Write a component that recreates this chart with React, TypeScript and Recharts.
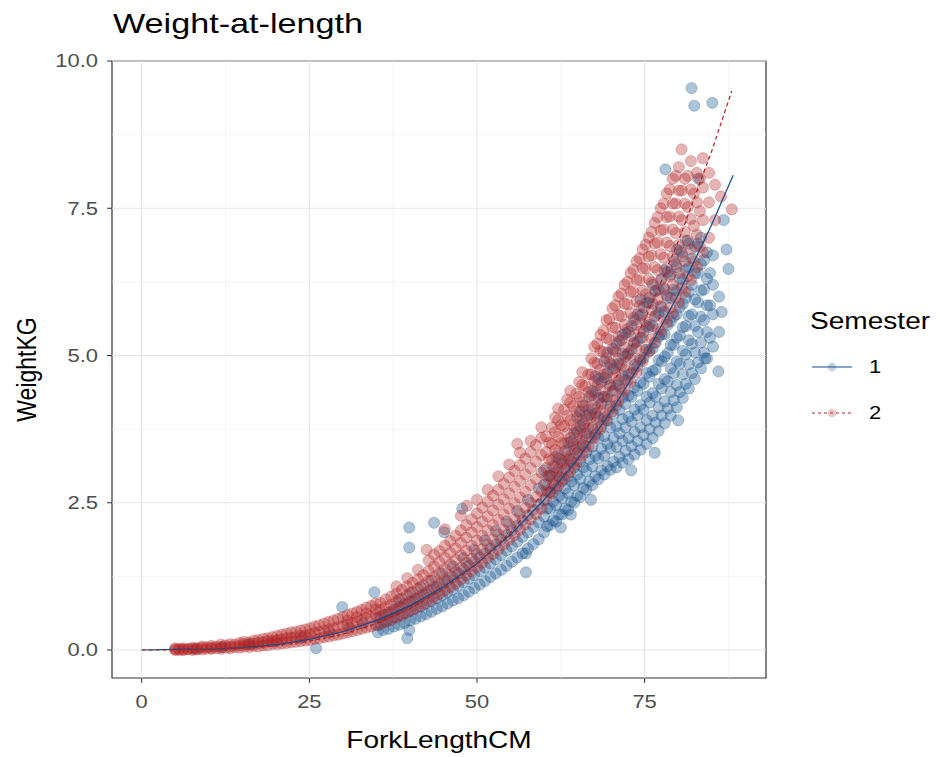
import { ScatterChart, Scatter, XAxis, YAxis, ReferenceLine, ReferenceArea } from 'recharts';

// Weight-at-length scatter, semester 1 vs 2, with fitted curves

type Col = [number, number[]];

const xTicks = [0, 25, 50, 75];
const yTicks = [0, 2.5, 5, 7.5, 10];
const xMinor = [12.5, 37.5, 62.5, 87.5];
const yMinor = [1.25, 3.75, 6.25, 8.75];

// semester 1 (blue) - columns of [ForkLengthCM, WeightKG values]
const sem1Cols: Col[] = [
  [8, [0.02]], [12, [0.05]], [16, [0.1]], [20, [0.15]], [24, [0.22]], [26, [0.03]],
  [28, [0.3]], [29.9, [0.73]], [31, [0.38]], [33, [0.45]], [34.7, [0.98]],
  [35.2, [0.3, 0.42, 0.55]], [36.0, [0.34, 0.47, 0.6]], [36.8, [0.36, 0.5, 0.64]],
  [37.6, [0.4, 0.55, 0.69]], [38.4, [0.43, 0.58, 0.73, 0.86]], [39.2, [0.46, 0.62, 0.78]],
  [39.6, [0.2]], [39.9, [0.34, 1.74, 2.08]], [43.6, [2.16]], [45.1, [2.0]], [47.8, [2.4]],
  [40.0, [0.5, 0.66, 0.82, 0.97]], [40.8, [0.53, 0.7, 0.87]], [41.6, [0.57, 0.74, 0.92, 1.07]],
  [42.4, [0.61, 0.79, 0.97]], [43.2, [0.65, 0.83, 1.02, 1.18]], [44.0, [0.7, 0.88, 1.07]],
  [44.8, [0.74, 0.93, 1.12, 1.3]], [45.6, [0.79, 0.98, 1.18]], [46.4, [0.84, 1.03, 1.24, 1.42]],
  [47.2, [0.88, 1.09, 1.3]], [48.0, [0.93, 1.15, 1.37, 1.56]], [48.8, [0.99, 1.21, 1.43]],
  [49.6, [1.05, 1.27, 1.5, 1.7]], [50.4, [1.11, 1.34, 1.57]], [51.2, [1.17, 1.4, 1.64, 1.86]],
  [52.0, [1.24, 1.47, 1.72]], [52.8, [1.3, 1.54, 1.79, 2.02]], [53.6, [1.36, 1.61, 1.87]],
  [54.4, [1.43, 1.69, 1.95, 2.18]], [55.2, [1.5, 1.76, 2.03]], [56.0, [1.57, 1.84, 2.11, 2.36]],
  [56.8, [1.64, 1.92, 2.2]], [57.3, [1.32, 1.64]], [57.6, [1.72, 2.0, 2.29, 2.55]],
  [58.4, [1.8, 2.09, 2.38]], [59.2, [1.88, 2.17, 2.47, 2.74]], [62.5, [2.08]],
  [60.0, [2.0, 2.27, 2.54, 2.81, 3.05]], [60.9, [2.12, 2.4, 2.68, 2.96]],
  [61.8, [2.18, 2.46, 2.74, 3.02, 3.28]], [62.7, [2.3, 2.58, 2.87, 3.16]],
  [63.6, [2.38, 2.66, 2.95, 3.24, 3.52]], [64.5, [2.5, 2.8, 3.1, 3.4, 3.68]],
  [65.4, [2.6, 2.9, 3.2, 3.5, 3.8, 4.05]], [66.3, [2.72, 3.04, 3.36, 3.68, 3.98]],
  [67.2, [2.8, 3.12, 3.45, 3.78, 4.1, 4.4]], [68.1, [2.9, 3.25, 3.6, 3.95, 4.28, 4.6]],
  [69.0, [2.98, 3.3, 3.63, 3.96, 4.3, 4.63, 4.9]], [69.9, [3.06, 3.42, 3.78, 4.14, 4.5, 4.85]],
  [70.8, [3.1, 3.45, 3.8, 4.15, 4.5, 4.85, 5.2]], [71.7, [3.18, 3.55, 3.92, 4.29, 4.66, 5.03, 5.35]],
  [72.6, [3.24, 3.6, 3.96, 4.32, 4.68, 5.04, 5.4]], [73.5, [3.32, 3.7, 4.08, 4.46, 4.84, 5.22, 5.6]],
  [74.4, [3.4, 3.78, 4.16, 4.54, 4.92, 5.3, 5.68, 5.95]], [75.3, [3.5, 3.9, 4.3, 4.7, 5.1, 5.5, 5.9]],
  [76.2, [3.6, 3.98, 4.36, 4.74, 5.12, 5.5, 5.88, 6.2]], [77.1, [3.72, 4.12, 4.52, 4.92, 5.32, 5.72, 6.12]],
  [78.0, [3.85, 4.22, 4.6, 4.98, 5.36, 5.74, 6.12, 6.45]], [78.9, [3.98, 4.38, 4.78, 5.18, 5.58, 5.98, 6.38]],
  [79.8, [4.12, 4.5, 4.9, 5.3, 5.7, 6.1, 6.5, 6.8]], [80.7, [4.28, 4.68, 5.08, 5.48, 5.88, 6.28, 6.68]],
  [81.6, [4.44, 4.85, 5.26, 5.67, 6.08, 6.5, 6.9]], [82.5, [4.6, 5.05, 5.5, 5.95, 6.4, 6.85]],
  [83.4, [4.78, 5.22, 5.66, 6.1, 6.55, 7.0]], [84.3, [4.95, 5.4, 5.85, 6.3, 6.75]],
  [85.2, [5.15, 5.7, 6.2, 6.7]], [86.1, [5.4, 6.0]],
  [60.45, [2.1, 2.4, 2.7, 2.95]], [61.35, [2.2, 2.52, 2.82, 3.12]], [62.25, [2.3, 2.62, 2.94, 3.25]],
  [63.15, [2.4, 2.74, 3.08, 3.38]], [64.05, [2.52, 2.86, 3.2, 3.54]], [64.95, [2.62, 2.98, 3.34, 3.7, 3.95]],
  [65.85, [2.75, 3.1, 3.48, 3.84, 4.15]], [66.75, [2.86, 3.24, 3.62, 4.0, 4.3]],
  [67.65, [2.95, 3.3, 3.66, 4.02, 4.38, 4.65]], [68.55, [3.05, 3.42, 3.8, 4.18, 4.55]],
  [69.45, [3.12, 3.5, 3.9, 4.3, 4.7, 5.05]], [70.35, [3.2, 3.6, 4.0, 4.4, 4.78, 5.1]],
  [71.25, [3.28, 3.68, 4.08, 4.48, 4.86, 5.25]], [72.15, [3.38, 3.78, 4.18, 4.58, 4.98, 5.38]],
  [73.05, [3.46, 3.88, 4.3, 4.7, 5.1, 5.5]], [73.95, [3.55, 3.98, 4.4, 4.82, 5.24, 5.7]],
  [74.85, [3.65, 4.08, 4.52, 4.96, 5.4, 5.82]], [75.75, [3.75, 4.2, 4.64, 5.08, 5.52, 5.98]],
  [76.65, [3.86, 4.3, 4.76, 5.22, 5.68, 6.1]], [77.55, [3.98, 4.44, 4.9, 5.36, 5.82, 6.3]],
  [78.45, [4.1, 4.56, 5.04, 5.52, 5.98, 6.42]], [79.35, [4.24, 4.7, 5.18, 5.66, 6.12, 6.6]],
  [80.25, [4.38, 4.86, 5.34, 5.82, 6.3, 6.78]], [81.15, [4.52, 5.02, 5.5, 5.98, 6.46, 6.95]],
  [82.05, [4.7, 5.2, 5.7, 6.2, 6.65]], [82.95, [4.88, 5.4, 5.9, 6.4, 6.9]],
  [83.85, [5.05, 5.6, 6.12, 6.62]], [84.75, [5.3, 5.85, 6.4]],
  [86.0, [4.73]], [86.5, [5.74]], [87.2, [6.8]], [87.5, [6.47]], [84.0, [4.95]],
  [80.0, [3.9]], [76.5, [3.35]], [73.0, [3.05]], [67.0, [2.55]], [64.0, [2.3]],
  [85.1, [9.29]], [82.0, [9.54]], [82.4, [9.24]], [78.1, [8.16]], [83.0, [8.0]], [86.8, [7.3]],
];

// semester 2 (red)
const sem2Cols: Col[] = [
  [5.0, [0.0, 0.01, 0.03]], [5.6, [0.0, 0.02]], [6.2, [0.01, 0.03, 0.0]], [6.9, [0.01, 0.02]],
  [7.6, [0.0, 0.02, 0.04]], [8.3, [0.01, 0.03]], [9.0, [0.01, 0.04, 0.06]], [9.7, [0.02, 0.05]],
  [10.4, [0.02, 0.04, 0.07]], [11.1, [0.03, 0.06]], [11.8, [0.02, 0.05, 0.09]], [12.5, [0.04, 0.08]],
  [13.2, [0.03, 0.06, 0.1]], [13.9, [0.05, 0.09]], [14.6, [0.04, 0.08, 0.12]], [15.3, [0.06, 0.1, 0.14]],
  [16.0, [0.05, 0.09, 0.13]], [16.7, [0.07, 0.11, 0.16]], [17.4, [0.06, 0.12, 0.17]],
  [18.1, [0.08, 0.13, 0.19]], [18.8, [0.08, 0.15, 0.2]], [19.5, [0.1, 0.15, 0.22]],
  [20.2, [0.1, 0.17, 0.24]], [20.9, [0.11, 0.18, 0.26]], [21.6, [0.12, 0.2, 0.28]],
  [22.3, [0.13, 0.21, 0.3]], [23.0, [0.14, 0.22, 0.31]], [23.7, [0.15, 0.24, 0.33]],
  [24.4, [0.16, 0.25, 0.35]], [25.1, [0.17, 0.27, 0.37]], [25.8, [0.19, 0.29, 0.4]],
  [26.5, [0.2, 0.31, 0.42]], [27.2, [0.22, 0.33, 0.45]], [27.9, [0.23, 0.35, 0.48]],
  [28.6, [0.25, 0.37, 0.5]], [29.3, [0.26, 0.39, 0.53]], [30.0, [0.28, 0.41, 0.56]],
  [30.7, [0.3, 0.43, 0.59, 0.5]], [31.4, [0.32, 0.46, 0.62]], [32.1, [0.34, 0.48, 0.65, 0.56]],
  [32.8, [0.36, 0.51, 0.68]], [33.5, [0.38, 0.54, 0.72, 0.62]], [34.2, [0.4, 0.57, 0.75]],
  [34.9, [0.43, 0.6, 0.79, 0.69]],
  [35.6, [0.44, 0.56, 0.68, 0.8]], [36.4, [0.48, 0.6, 0.73, 0.86]], [37.2, [0.51, 0.64, 0.77, 0.91]],
  [38.0, [0.55, 0.68, 0.82, 0.96, 1.08]], [38.8, [0.59, 0.73, 0.87, 1.02]],
  [39.6, [0.64, 0.78, 0.93, 1.08, 1.22]], [40.4, [0.68, 0.83, 0.98, 1.14]],
  [41.2, [0.73, 0.88, 1.04, 1.2, 1.36]], [42.0, [0.78, 0.94, 1.1, 1.27]],
  [42.8, [0.83, 1.0, 1.17, 1.34, 1.52]], [43.6, [0.89, 1.06, 1.24, 1.42, 1.62]],
  [44.4, [0.95, 1.12, 1.3, 1.49, 1.68]], [45.2, [1.01, 1.19, 1.38, 1.57, 1.77, 2.05]],
  [46.0, [1.07, 1.26, 1.45, 1.65, 1.85]], [46.8, [1.13, 1.33, 1.53, 1.73, 1.94]],
  [47.6, [1.2, 1.4, 1.61, 1.82, 2.03, 2.28]], [48.4, [1.27, 1.48, 1.69, 1.91, 2.12]],
  [49.2, [1.34, 1.55, 1.77, 2.0, 2.22]], [50.0, [1.41, 1.63, 1.86, 2.09, 2.32, 2.55]],
  [50.8, [1.48, 1.71, 1.94, 2.18, 2.42]], [51.6, [1.56, 1.79, 2.03, 2.27, 2.52, 2.72]],
  [52.4, [1.63, 1.87, 2.12, 2.37, 2.62]], [53.2, [1.71, 1.96, 2.21, 2.47, 2.72, 2.95]],
  [54.0, [1.79, 2.04, 2.3, 2.56, 2.82]], [54.8, [1.87, 2.13, 2.4, 2.66, 2.93, 3.15]],
  [55.6, [1.95, 2.22, 2.49, 2.77, 3.04]], [56.4, [2.04, 2.31, 2.59, 2.87, 3.14, 3.35]],
  [57.2, [2.13, 2.41, 2.69, 2.98, 3.25]], [58.0, [2.22, 2.5, 2.8, 3.09, 3.36, 3.55]],
  [58.8, [2.31, 2.6, 2.9, 3.2, 3.48]], [59.6, [2.4, 2.7, 3.01, 3.31, 3.6, 3.78]],
  [60.3, [2.55, 2.82, 3.09, 3.36, 3.63]], [61.2, [2.66, 2.94, 3.22, 3.5, 3.78]],
  [62.1, [2.78, 3.06, 3.34, 3.62, 3.9, 4.1]], [63.0, [2.9, 3.2, 3.5, 3.8, 4.08]],
  [63.9, [3.02, 3.3, 3.6, 3.9, 4.2, 4.4]], [64.8, [3.15, 3.45, 3.75, 4.05, 4.35]],
  [65.7, [3.3, 3.6, 3.9, 4.2, 4.5, 4.72]], [66.6, [3.45, 3.76, 4.07, 4.38, 4.68]],
  [67.5, [3.6, 3.92, 4.24, 4.56, 4.88, 5.15]], [68.4, [3.75, 4.08, 4.42, 4.76, 5.08, 5.35]],
  [69.3, [3.9, 4.25, 4.6, 4.95, 5.3, 5.6]], [70.2, [4.05, 4.4, 4.76, 5.12, 5.48, 5.8]],
  [71.1, [4.22, 4.58, 4.95, 5.32, 5.68, 6.0]], [72.0, [4.38, 4.76, 5.14, 5.52, 5.88, 6.2]],
  [72.9, [4.55, 4.94, 5.33, 5.72, 6.08, 6.4]], [73.8, [4.72, 5.12, 5.52, 5.92, 6.28, 6.6]],
  [74.7, [4.9, 5.3, 5.7, 6.1, 6.48, 6.8]], [75.6, [5.06, 5.48, 5.9, 6.3, 6.68, 7.0]],
  [76.5, [5.22, 5.66, 6.08, 6.5, 6.9, 7.25]], [77.4, [5.4, 5.84, 6.28, 6.72, 7.12, 7.5]],
  [78.3, [5.56, 6.02, 6.48, 6.92, 7.35, 7.75]], [79.2, [5.72, 6.2, 6.68, 7.14, 7.58, 8.0]],
  [80.1, [5.9, 6.4, 6.88, 7.36, 7.8, 8.2]], [81.0, [6.08, 6.6, 7.1, 7.58, 8.0]],
  [81.9, [6.28, 6.8, 7.32, 7.82, 8.3]], [82.8, [6.5, 7.05, 7.6, 8.1]],
  [83.7, [6.75, 7.3, 7.85, 8.35]], [84.6, [7.0, 7.6, 8.1]], [85.5, [7.3, 7.9]],
  [60.75, [2.68, 2.96, 3.24, 3.52]], [61.65, [2.8, 3.1, 3.4, 3.7, 3.95]], [62.55, [2.92, 3.22, 3.52, 3.82]],
  [63.45, [3.05, 3.36, 3.68, 3.98, 4.25]], [64.35, [3.18, 3.5, 3.82, 4.14]],
  [65.25, [3.32, 3.65, 3.98, 4.3, 4.55]], [66.15, [3.46, 3.8, 4.14, 4.48]],
  [67.05, [3.6, 3.96, 4.32, 4.68, 4.95]], [67.95, [3.76, 4.12, 4.5, 4.86, 5.2]],
  [68.85, [3.92, 4.3, 4.68, 5.06, 5.42]], [69.75, [4.08, 4.48, 4.88, 5.27, 5.62]],
  [70.65, [4.24, 4.66, 5.07, 5.47, 5.85]], [71.55, [4.42, 4.84, 5.26, 5.67, 6.05]],
  [72.45, [4.58, 5.02, 5.45, 5.87, 6.25]], [73.35, [4.76, 5.2, 5.64, 6.08, 6.46]],
  [74.25, [4.94, 5.4, 5.84, 6.28, 6.65]], [75.15, [5.1, 5.58, 6.04, 6.48, 6.88]],
  [76.05, [5.28, 5.77, 6.24, 6.7, 7.1]], [76.95, [5.45, 5.96, 6.45, 6.92, 7.35]],
  [77.85, [5.62, 6.15, 6.66, 7.14, 7.58]], [78.75, [5.8, 6.35, 6.86, 7.36, 7.82]],
  [79.65, [5.98, 6.55, 7.08, 7.58, 8.05]], [80.55, [6.15, 6.75, 7.3, 7.8]],
  [81.45, [6.35, 6.95, 7.52, 8.05]], [82.35, [6.6, 7.2, 7.75]], [83.25, [6.85, 7.45, 8.0]],
  [86.4, [7.7]], [88.0, [7.48]], [80.5, [8.5]], [42.5, [1.7]], [48.5, [2.45]], [56.0, [3.5]],
];

// fitted curves
const sem1Fit: [number, number][] = [
  [0, 0], [5, 0.01], [10, 0.01], [15, 0.04], [20, 0.09], [25, 0.18], [30, 0.31], [35, 0.5],
  [40, 0.75], [45, 1.07], [50, 1.47], [55, 1.96], [60, 2.55], [65, 3.24], [70, 4.05],
  [75, 4.98], [80, 6.03], [85, 7.22], [88.2, 8.06],
];
const sem2Fit: [number, number][] = [
  [0, 0], [5, 0.0], [10, 0.01], [15, 0.03], [20, 0.07], [25, 0.15], [30, 0.27], [35, 0.45],
  [40, 0.7], [45, 1.03], [50, 1.46], [55, 2.0], [60, 2.68], [65, 3.5], [70, 4.46],
  [75, 5.6], [80, 6.93], [85, 8.47], [88, 9.49],
];

const BLUE = '#104E8B';
const RED = '#B22222';
const FONT = '"Liberation Sans", Arial, sans-serif';
const SX = 1.22;

const toPoints = (cols: Col[]) => cols.flatMap(([x, ys]) => ys.map((y) => ({ x, y })));
const fitPoints = (pts: [number, number][]) => pts.map(([x, y]) => ({ x, y }));

const dot = (color: string) => (p: any) => (
  <circle cx={ p.cx } cy={ p.cy } r={ 5.6 } fill={ color } fillOpacity={ 0.34 }
    stroke={ color } strokeOpacity={ 0.32 } strokeWidth={ 0.8 } />
);

const stretch = (x: number) => `translate(${x} 0) scale(${SX} 1) translate(${-x} 0)`;

const XTick = ({ x, y, payload }: any) => (
  <text x={ x } y={ y } dy="0.71em" textAnchor="middle" fill="#4D4D4D" fontSize={ 18 }
    fontFamily={ FONT } transform={ stretch(x) }>{ payload.value }</text>
);

const YTick = ({ x, y, payload }: any) => (
  <text x={ x } y={ y } dy="0.36em" textAnchor="end" fill="#4D4D4D" fontSize={ 18 }
    fontFamily={ FONT } transform={ stretch(x) }>{ Number(payload.value).toFixed(1) }</text>
);

const XTitle = ({ viewBox }: any) => {
  const cx = viewBox.x + viewBox.width / 2;
  return (
    <text x={ cx } y={ 748 } textAnchor="middle" fontSize={ 23 } fontFamily={ FONT } fill="#000"
      transform={ stretch(cx) }>ForkLengthCM</text>
  );
};

const YTitle = ({ viewBox }: any) => {
  const cy = viewBox.y + viewBox.height / 2;
  return (
    <text x={ 0 } y={ 0 } textAnchor="middle" fontSize={ 23 } fontFamily={ FONT } fill="#000"
      transform={ `translate(36 ${cy}) rotate(-90) scale(1 ${SX})` }>WeightKG</text>
  );
};

const LegendKey = ({ color, dash }: { color: string; dash?: string }) => (
  <svg width={ 44 } height={ 30 } style={ { display: 'block' } }>
    <circle cx={ 22 } cy={ 15 } r={ 4.3 } fill={ color } fillOpacity={ 0.25 } />
    <line x1={ 2 } x2={ 42 } y1={ 15 } y2={ 15 } stroke={ color } strokeWidth={ 1.2 } strokeDasharray={ dash } />
  </svg>
);

const App = () => (
  <div style={ { position: 'absolute', left: 0, top: 0, width: 940, height: 757, background: '#fff', fontFamily: FONT } }>
    <div style={ { position: 'absolute', left: 113, top: 7, fontSize: 28, lineHeight: '34px', color: '#000',
      transform: `scaleX(${SX})`, transformOrigin: 'left top', whiteSpace: 'nowrap' } }>
      Weight-at-length
    </div>

    <ScatterChart width={ 940 } height={ 757 } margin={ { top: 61, right: 174, bottom: 4, left: 10 } }>
      <XAxis type="number" dataKey="x" domain={ [-4.43, 93.1] } ticks={ xTicks } allowDataOverflow
        tickSize={ 5 } tickMargin={ 12 } height={ 75 } stroke="#333" axisLine={ false }
        tick={ <XTick /> } label={ <XTitle /> } />
      <YAxis type="number" dataKey="y" domain={ [-0.475, 10] } ticks={ yTicks } allowDataOverflow
        tickSize={ 5 } tickMargin={ 9 } width={ 102 } stroke="#333" axisLine={ false }
        tick={ <YTick /> } label={ <YTitle /> } />

      { yMinor.map((v) => <ReferenceLine key={ `ym${v}` } y={ v } stroke="#F0F0F0" strokeWidth={ 0.7 } />) }
      { xMinor.map((v) => <ReferenceLine key={ `xm${v}` } x={ v } stroke="#F0F0F0" strokeWidth={ 0.7 } />) }
      { yTicks.map((v) => <ReferenceLine key={ `y${v}` } y={ v } stroke="#E6E6E6" strokeWidth={ 1.1 } />) }
      { xTicks.map((v) => <ReferenceLine key={ `x${v}` } x={ v } stroke="#E6E6E6" strokeWidth={ 1.1 } />) }

      <Scatter name="1" data={ toPoints(sem1Cols) } shape={ dot(BLUE) } isAnimationActive={ false } />
      <Scatter name="2" data={ toPoints(sem2Cols) } shape={ dot(RED) } isAnimationActive={ false } />
      <Scatter name="fit1" data={ fitPoints(sem1Fit) } line={ { stroke: BLUE, strokeWidth: 1.2 } }
        shape={ () => <g /> } isAnimationActive={ false } />
      <Scatter name="fit2" data={ fitPoints(sem2Fit) } line={ { stroke: RED, strokeWidth: 1.2, strokeDasharray: '4 3' } }
        shape={ () => <g /> } isAnimationActive={ false } />

      <ReferenceArea x1={ -4.43 } x2={ 93.1 } y1={ -0.475 } y2={ 10 } fill="none" stroke="#333"
        strokeWidth={ 1.2 } ifOverflow="visible" />
    </ScatterChart>

    <div style={ { position: 'absolute', left: 810, top: 306, color: '#000' } }>
      <div style={ { fontSize: 23, lineHeight: '30px', transform: `scaleX(${SX})`, transformOrigin: 'left top' } }>Semester</div>
      { [{ label: '1', color: BLUE }, { label: '2', color: RED, dash: '3 3' }].map((it, i) => (
        <div key={ it.label } style={ { position: 'absolute', left: 0, top: 46 + i * 46, display: 'flex', alignItems: 'center' } }>
          <LegendKey color={ it.color } dash={ it.dash } />
          <span style={ { fontSize: 18, marginLeft: 16, display: 'inline-block', transform: `scaleX(${SX})`, color: '#000' } }>
            { it.label }
          </span>
        </div>
      )) }
    </div>
  </div>
);

export default App;
